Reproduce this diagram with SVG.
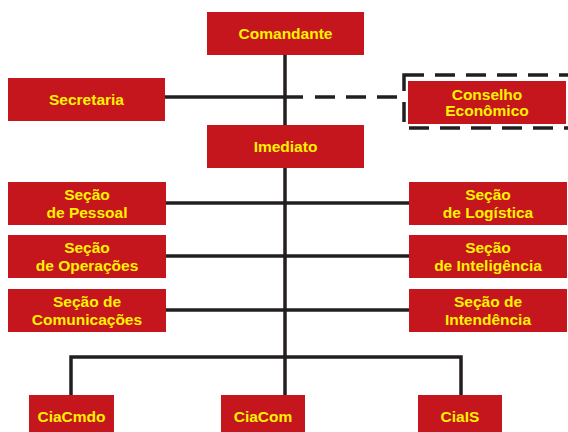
<svg xmlns="http://www.w3.org/2000/svg" width="568" height="432" viewBox="0 0 568 432">
<style>
.box{fill:#c4161c}
.t{font-family:"Liberation Sans",Arial,sans-serif;font-weight:bold;font-size:15.5px;fill:#fff200;text-anchor:middle}
.ln{stroke:#231f20;stroke-width:3.5;fill:none}
.dash{stroke:#231f20;stroke-width:3.5;fill:none;stroke-dasharray:20 11}
</style>
<rect width="568" height="432" fill="#fff"/>
<g id="connectors">
<line class="ln" x1="285" y1="55" x2="285" y2="395"/>
<line class="ln" x1="165" y1="97" x2="303" y2="97"/>
<line class="dash" x1="315" y1="97" x2="403" y2="97"/>
<rect class="dash" x="404" y="75" width="172" height="53"/>
<line class="ln" x1="166" y1="203" x2="409" y2="203"/>
<line class="ln" x1="166" y1="256" x2="409" y2="256"/>
<line class="ln" x1="166" y1="310" x2="409" y2="310"/>
<polyline class="ln" points="71,395 71,357 461,357 461,395"/>
</g>
<g id="comandante"><rect class="box" x="207" y="12" width="157" height="43"/><text class="t" x="285.5" y="39">Comandante</text></g>
<g id="secretaria"><rect class="box" x="8" y="78" width="157" height="43"/><text class="t" x="86.5" y="105">Secretaria</text></g>
<g id="conselho"><rect class="box" x="408" y="81" width="158" height="43"/><text class="t" x="487" y="100">Conselho</text><text class="t" x="487" y="116">Econômico</text></g>
<g id="imediato"><rect class="box" x="207" y="125" width="157" height="43"/><text class="t" x="285.5" y="152">Imediato</text></g>
<g id="pessoal"><rect class="box" x="8" y="182" width="158" height="43"/><text class="t" x="87" y="200">Seção</text><text class="t" x="87" y="218">de Pessoal</text></g>
<g id="operacoes"><rect class="box" x="8" y="235" width="158" height="43"/><text class="t" x="87" y="253">Seção</text><text class="t" x="87" y="271">de Operações</text></g>
<g id="comunicacoes"><rect class="box" x="8" y="289" width="158" height="43"/><text class="t" x="87" y="307">Seção de</text><text class="t" x="87" y="325">Comunicações</text></g>
<g id="logistica"><rect class="box" x="409" y="182" width="158" height="43"/><text class="t" x="488" y="200">Seção</text><text class="t" x="488" y="218">de Logística</text></g>
<g id="inteligencia"><rect class="box" x="409" y="235" width="158" height="43"/><text class="t" x="488" y="253">Seção</text><text class="t" x="488" y="271">de Inteligência</text></g>
<g id="intendencia"><rect class="box" x="409" y="289" width="158" height="43"/><text class="t" x="488" y="307">Seção de</text><text class="t" x="488" y="325">Intendência</text></g>
<g id="ciacmdo"><rect class="box" x="29" y="395" width="85" height="37"/><text class="t" x="71.5" y="422">CiaCmdo</text></g>
<g id="ciacom"><rect class="box" x="221" y="395" width="84" height="37"/><text class="t" x="263" y="422">CiaCom</text></g>
<g id="cias"><rect class="box" x="418" y="395" width="84" height="37"/><text class="t" x="460" y="422">CiaIS</text></g>
</svg>
